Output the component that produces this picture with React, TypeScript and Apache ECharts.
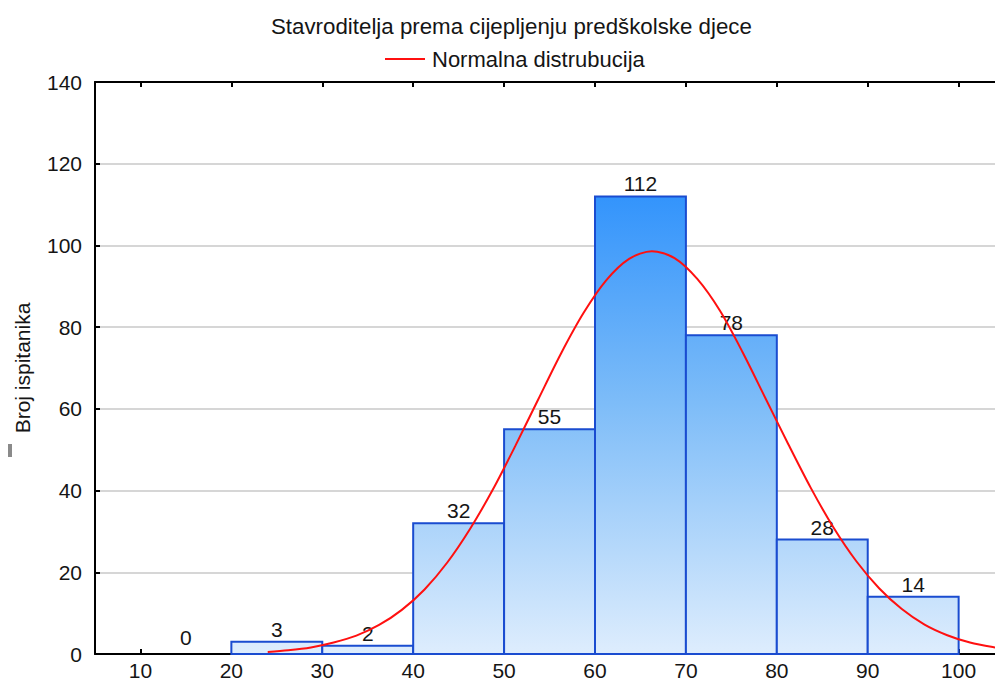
import React, { useEffect, useRef } from "react";
import * as echarts from "echarts";

const binStarts = [10, 20, 30, 40, 50, 60, 70, 80, 90];
const binEnds = [20, 30, 40, 50, 60, 70, 80, 90, 100];
const counts = [0, 3, 2, 32, 55, 112, 78, 28, 14];

const curveX = [24, 26.25, 28.75, 31.25, 33.75, 36.25, 38.75, 41.25, 43.75, 46.25, 48.75, 51.25, 53.75, 56.25, 58.75, 61.25, 63.75, 66.25, 68.75, 71.25, 73.75, 76.25, 78.75, 81.25, 83.75, 86.25, 88.75, 91.25, 93.75, 96.25, 98.75, 101.25, 103.75, 106.25];
const curveY = [0.5, 0.9, 1.6, 2.8, 4.5, 7.1, 10.8, 15.8, 22.4, 30.6, 40.2, 51.0, 62.3, 73.5, 83.5, 91.5, 96.7, 98.6, 96.9, 91.8, 84.0, 73.8, 62.6, 51.4, 40.6, 30.9, 22.7, 16.1, 11.0, 7.2, 4.6, 2.8, 1.7, 0.9];

const xTicks = [10, 20, 30, 40, 50, 60, 70, 80, 90, 100];

const titleText = "Stavroditelja prema cijepljenju predškolske djece";
const legendText = "Normalna distrubucija";
const yName = "Broj ispitanika";

const FONT = "'Liberation Sans', Arial, sans-serif";
const TXT = "#151515";

export default function App() {
  const ref = useRef<HTMLDivElement>(null);
  useEffect(() => {
    if (!ref.current) return;
    const chart = echarts.init(ref.current, undefined, { renderer: "svg" });
    const maxCount = Math.max(...counts);
    const histData = binStarts.map((s, i) => [s, binEnds[i], counts[i]]);
    const lineData = curveX.map((x, i) => [x, curveY[i]]);

    chart.setOption({
      animation: false,
      backgroundColor: "#ffffff",
      textStyle: { fontFamily: FONT },
      title: {
        text: titleText,
        left: 266,
        top: 10,
        textStyle: { fontSize: 22.3, fontWeight: "normal", color: TXT, fontFamily: FONT },
      },
      legend: {
        top: 43,
        left: 380,
        icon: "rect",
        itemWidth: 40,
        itemHeight: 2,
        itemGap: 8,
        data: [{ name: legendText, icon: "rect" }],
        textStyle: { fontSize: 22, color: TXT, fontFamily: FONT, padding: [0, 0, 0, 2] },
      },
      grid: { left: 95, top: 82, right: 0, height: 572, containLabel: false },
      xAxis: [
        {
          type: "value",
          position: "bottom",
          min: 5,
          max: 104,
          axisLine: { show: true, lineStyle: { color: "#000", width: 2 } },
          axisTick: { show: true, inside: true, length: 5, customValues: xTicks, lineStyle: { color: "#000", width: 2 } },
          axisLabel: { customValues: xTicks, margin: 6, fontSize: 21, color: TXT, fontFamily: FONT },
          splitLine: { show: false },
        },
        {
          type: "value",
          position: "top",
          min: 5,
          max: 104,
          axisLine: { show: true, lineStyle: { color: "#000", width: 2 } },
          axisTick: { show: true, inside: true, length: 5, customValues: xTicks, lineStyle: { color: "#000", width: 2 } },
          axisLabel: { show: false },
          splitLine: { show: false },
        },
      ],
      yAxis: {
        type: "value",
        min: 0,
        max: 140,
        interval: 20,
        name: yName,
        nameLocation: "middle",
        nameRotate: 90,
        nameGap: 62,
        nameTextStyle: { fontSize: 21, color: TXT, fontFamily: FONT },
        axisLine: { show: true, lineStyle: { color: "#000", width: 2 } },
        axisTick: { show: true, inside: true, length: 5, lineStyle: { color: "#000", width: 2 } },
        axisLabel: { margin: 13, fontSize: 21, color: TXT, fontFamily: FONT },
        splitLine: { show: true, lineStyle: { color: "#d6d6d6", width: 2 } },
      },
      graphic: [
        { type: "rect", shape: { x: 8, y: 444, width: 4, height: 13 }, style: { fill: "#8a8a8a" } },
      ],
      series: [
        {
          type: "custom",
          name: "hist",
          data: histData,
          encode: { x: [0, 1], y: 2 },
          z: 2,
          renderItem: (params: any, api: any) => {
            const x0 = api.value(0);
            const x1 = api.value(1);
            const v = api.value(2);
            const p0 = api.coord([x0, v]);
            const p1 = api.coord([x1, 0]);
            const gTop = api.coord([x0, maxCount])[1];
            const gBot = api.coord([x0, 0])[1];
            const children: any[] = [];
            if (v > 0) {
              children.push({
                type: "rect",
                shape: { x: p0[0], y: p0[1], width: p1[0] - p0[0], height: p1[1] - p0[1] },
                style: {
                  fill: new echarts.graphic.LinearGradient(0, gTop, 0, gBot, [
                    { offset: 0, color: "#3394fc" },
                    { offset: 0.45, color: "#7dbcf8" },
                    { offset: 1, color: "#deedfd" },
                  ], true),
                  stroke: "#1a4cd0",
                  lineWidth: 2,
                },
              });
            }
            children.push({
              type: "text",
              style: {
                text: String(v),
                x: (p0[0] + p1[0]) / 2,
                y: p0[1] - (v > 0 ? 2 : 6),
                align: "center",
                verticalAlign: "bottom",
                fill: TXT,
                font: `21px ${FONT}`,
              },
            });
            return { type: "group", children };
          },
        },
        {
          type: "line",
          name: legendText,
          data: lineData,
          smooth: 0.3,
          showSymbol: false,
          symbol: "none",
          z: 3,
          lineStyle: { color: "#ff1010", width: 2 },
          itemStyle: { color: "#ff1010" },
        },
      ],
    });
    return () => chart.dispose();
  }, []);
  return (
    <div
      ref={ref}
      style={{ position: "fixed", left: 0, top: 0, width: 995, height: 688, background: "#fff" }}
    />
  );
}
